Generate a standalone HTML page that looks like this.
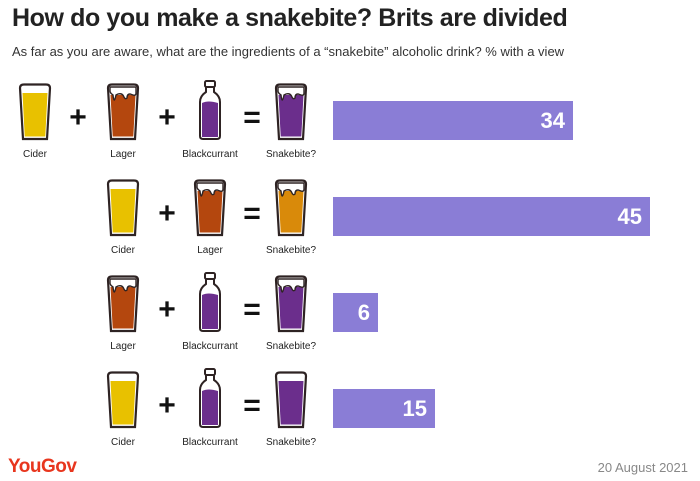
<!DOCTYPE html>
<html><head><meta charset="utf-8"><style>
body{margin:0;background:#fff;width:700px;height:481px;overflow:hidden;position:relative;font-family:"Liberation Sans",sans-serif;}
.t{position:absolute;left:12px;top:4px;font-size:25px;font-weight:bold;color:#222;letter-spacing:-0.4px}
.s{position:absolute;left:12px;top:44px;font-size:13px;color:#333}
.bar{position:absolute;left:333px;height:39px;background:#8a7dd6;color:#fff;font-weight:bold;font-size:22px;text-align:right;box-sizing:border-box;padding-right:8px;line-height:39px}
.lab{position:absolute;font-size:10px;color:#222;transform:translateX(-50%);white-space:nowrap}
.sym{position:absolute;font-size:30px;font-weight:bold;color:#111;transform:translateX(-50%);line-height:30px}
.yg{position:absolute;left:8px;top:456px;color:#e8361e;font-size:19px;font-weight:bold;letter-spacing:-0.5px}
.d{position:absolute;right:12px;top:460px;color:#888;font-size:13px}
</style></head><body>
<div class="t">How do you make a snakebite? Brits are divided</div>
<div class="s">As far as you are aware, what are the ingredients of a “snakebite” alcoholic drink? % with a view</div>
<div id="c"></div>
<div class="bar" style="top:101px;width:240px">34</div>
<div class="bar" style="top:197px;width:317px">45</div>
<div class="bar" style="top:293px;width:45px">6</div>
<div class="bar" style="top:389px;width:102px">15</div>
<div class="yg">YouGov</div>
<div class="d">20 August 2021</div>
<script>
var C={cider:'#e8c100',lager:'#b4470e',bc:'#6b2e8c',sp:'#6b2e8c',so:'#d98a0a'};
var S='#2e2323';
function glass(x,y,fill,foam,label){
 var svg='<svg style="position:absolute;left:'+(x-18)+'px;top:'+y+'px" width="36" height="58" viewBox="0 0 36 58">';
 svg+='<path d="M3,5 Q3,1.5 7,1.5 L29,1.5 Q33,1.5 33,5 L30,56 L6,56 Z" fill="#fff" stroke="'+S+'" stroke-width="2.2"/>';
 if(foam){svg+='<path d="M5.5,12 L30.5,12 L28.3,53.5 L7.7,53.5 Z" fill="'+fill+'"/>';
  svg+='<path d="M5,4 L31,4 L31,10 Q31,13 28,12 L25,11 Q22,11 22,15 Q20,17 18.5,13 Q17,10 13,11 L11,12 Q9,22 8,12 Q5,10 5,8Z" fill="#fff" stroke="'+S+'" stroke-width="1.4"/>';}
 else svg+='<path d="M5.5,10 L30.5,10 L28.3,53.5 L7.7,53.5 Z" fill="'+fill+'"/>';
 svg+='</svg>';
 return svg+'<div class="lab" style="left:'+x+'px;top:'+(y+66)+'px">'+label+'</div>';
}
function bottle(x,y){
 var svg='<svg style="position:absolute;left:'+(x-14)+'px;top:'+(y-3)+'px" width="28" height="61" viewBox="0 0 28 61">';
 svg+='<rect x="9" y="1" width="10" height="6" rx="1.5" fill="#fff" stroke="'+S+'" stroke-width="2"/>';
 svg+='<path d="M10,7 L18,7 L18,12 Q24,16 24,22 L24,56 Q24,59 21,59 L7,59 Q4,59 4,56 L4,22 Q4,16 10,12 Z" fill="#fff" stroke="'+S+'" stroke-width="2"/>';
 svg+='<path d="M6,23 Q12,20 22,23 L22,57 L6,57 Z" fill="'+C.bc+'"/>';
 svg+='</svg>';
 return svg+'<div class="lab" style="left:'+x+'px;top:'+(y+66)+'px">Blackcurrant</div>';
}
function sym(x,y,c){return '<div class="sym" style="left:'+x+'px;top:'+(y+20)+'px">'+c+'</div>';}
var h='',y;
y=83;h+=glass(35,y,C.cider,0,'Cider')+sym(78,y,'+')+glass(123,y,C.lager,1,'Lager')+sym(167,y,'+')+bottle(210,y)+sym(252,y,'=')+glass(291,y,C.sp,1,'Snakebite?');
y=179;h+=glass(123,y,C.cider,0,'Cider')+sym(167,y,'+')+glass(210,y,C.lager,1,'Lager')+sym(252,y,'=')+glass(291,y,C.so,1,'Snakebite?');
y=275;h+=glass(123,y,C.lager,1,'Lager')+sym(167,y,'+')+bottle(210,y)+sym(252,y,'=')+glass(291,y,C.sp,1,'Snakebite?');
y=371;h+=glass(123,y,C.cider,0,'Cider')+sym(167,y,'+')+bottle(210,y)+sym(252,y,'=')+glass(291,y,C.sp,0,'Snakebite?');
document.getElementById('c').innerHTML=h;
</script>
</body></html>
